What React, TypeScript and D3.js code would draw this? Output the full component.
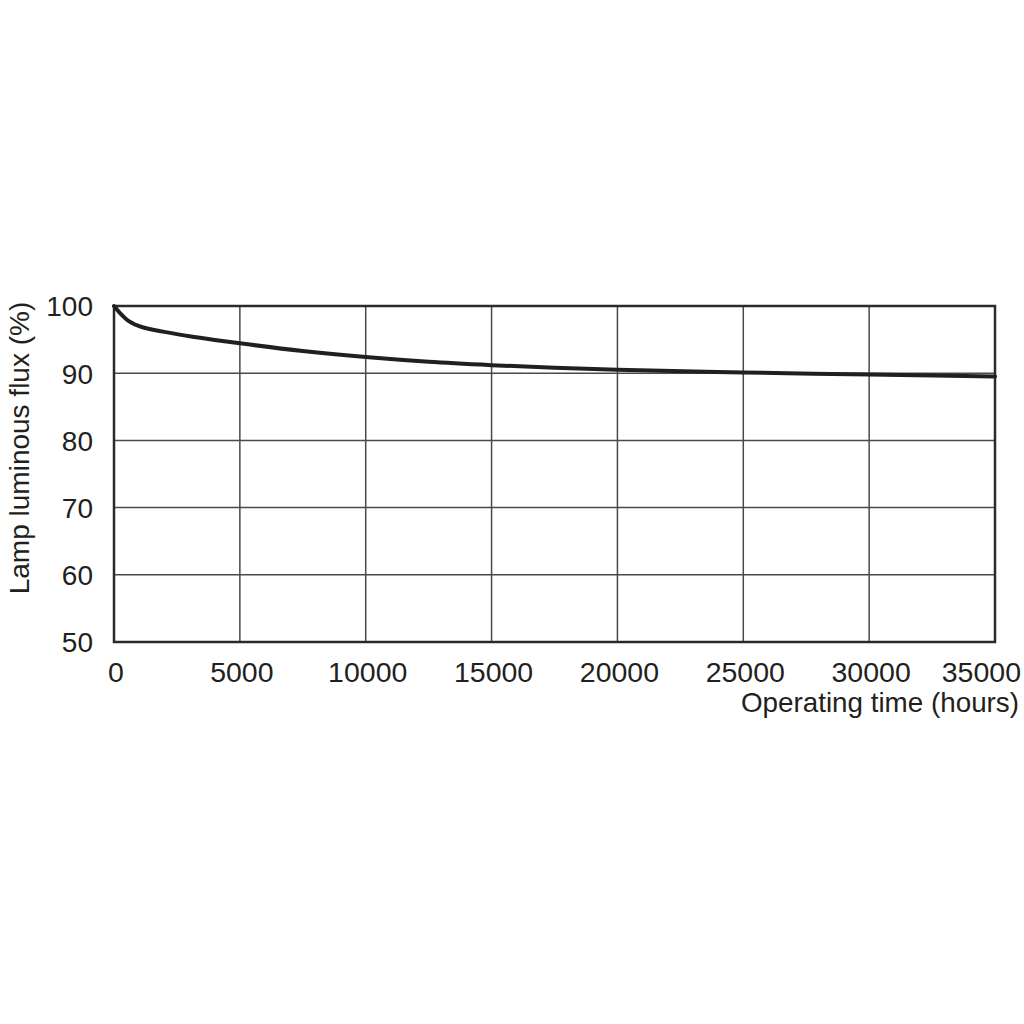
import React from "react";
import * as d3 from "d3";

const hours = [0, 250, 500, 1000, 1500, 2000, 3000, 4000, 5000, 7500, 10000, 12500, 15000, 17500, 20000, 25000, 30000, 35000];
const flux = [100, 98.9, 98.0, 97.0, 96.5, 96.15, 95.5, 94.95, 94.45, 93.3, 92.4, 91.7, 91.2, 90.8, 90.5, 90.1, 89.8, 89.5];
const xTicks = [0, 5000, 10000, 15000, 20000, 25000, 30000, 35000];
const yTicks = [50, 60, 70, 80, 90, 100];

export default function App() {
  const left = 114, right = 995, top = 306, bottom = 642;
  const x = d3.scaleLinear().domain([0, 35000]).range([left, right]);
  const y = d3.scaleLinear().domain([50, 100]).range([bottom, top]);
  const pts: [number, number][] = hours.map((h, i) => [h, flux[i]]);
  const line = d3.line<[number, number]>().x(d => x(d[0])).y(d => y(d[1])).curve(d3.curveMonotoneX);
  const font = "'Liberation Sans', Arial, sans-serif";
  const lastTick = xTicks[xTicks.length - 1];
  return (
    <svg width={1024} height={1024} style={{ position: "absolute", left: 0, top: 0, background: "#fff" }}>
      <rect x={0} y={0} width={1024} height={1024} fill="#fff" />
      {xTicks.map(t => (
        <line key={"gx" + t} x1={x(t)} x2={x(t)} y1={top} y2={bottom} stroke="#4a4a4a" strokeWidth={1.5} />
      ))}
      {yTicks.map(t => (
        <line key={"gy" + t} x1={left} x2={right} y1={y(t)} y2={y(t)} stroke="#4a4a4a" strokeWidth={1.5} />
      ))}
      <rect x={left} y={top} width={right - left} height={bottom - top} fill="none" stroke="#2a2a2a" strokeWidth={2.5} />
      <path d={line(pts) || ""} fill="none" stroke="#231f20" strokeWidth={4} strokeLinecap="round" />
      {yTicks.map(t => (
        <text key={"ty" + t} x={93} y={y(t)} dy="0.37em" textAnchor="end" fontFamily={font} fontSize={28} fill="#231f20">{t}</text>
      ))}
      {xTicks.map(t => (
        <text key={"tx" + t} x={t === lastTick ? 1021 : x(t) + 2} y={682} textAnchor={t === lastTick ? "end" : "middle"} fontFamily={font} fontSize={28.5} fill="#231f20">{t}</text>
      ))}
      <text x={1019} y={712} textAnchor="end" fontFamily={font} fontSize={27.8} fill="#231f20">Operating time (hours)</text>
      <text transform="translate(29,448) rotate(-90)" textAnchor="middle" fontFamily={font} fontSize={28} fill="#231f20">Lamp luminous flux (%)</text>
    </svg>
  );
}
